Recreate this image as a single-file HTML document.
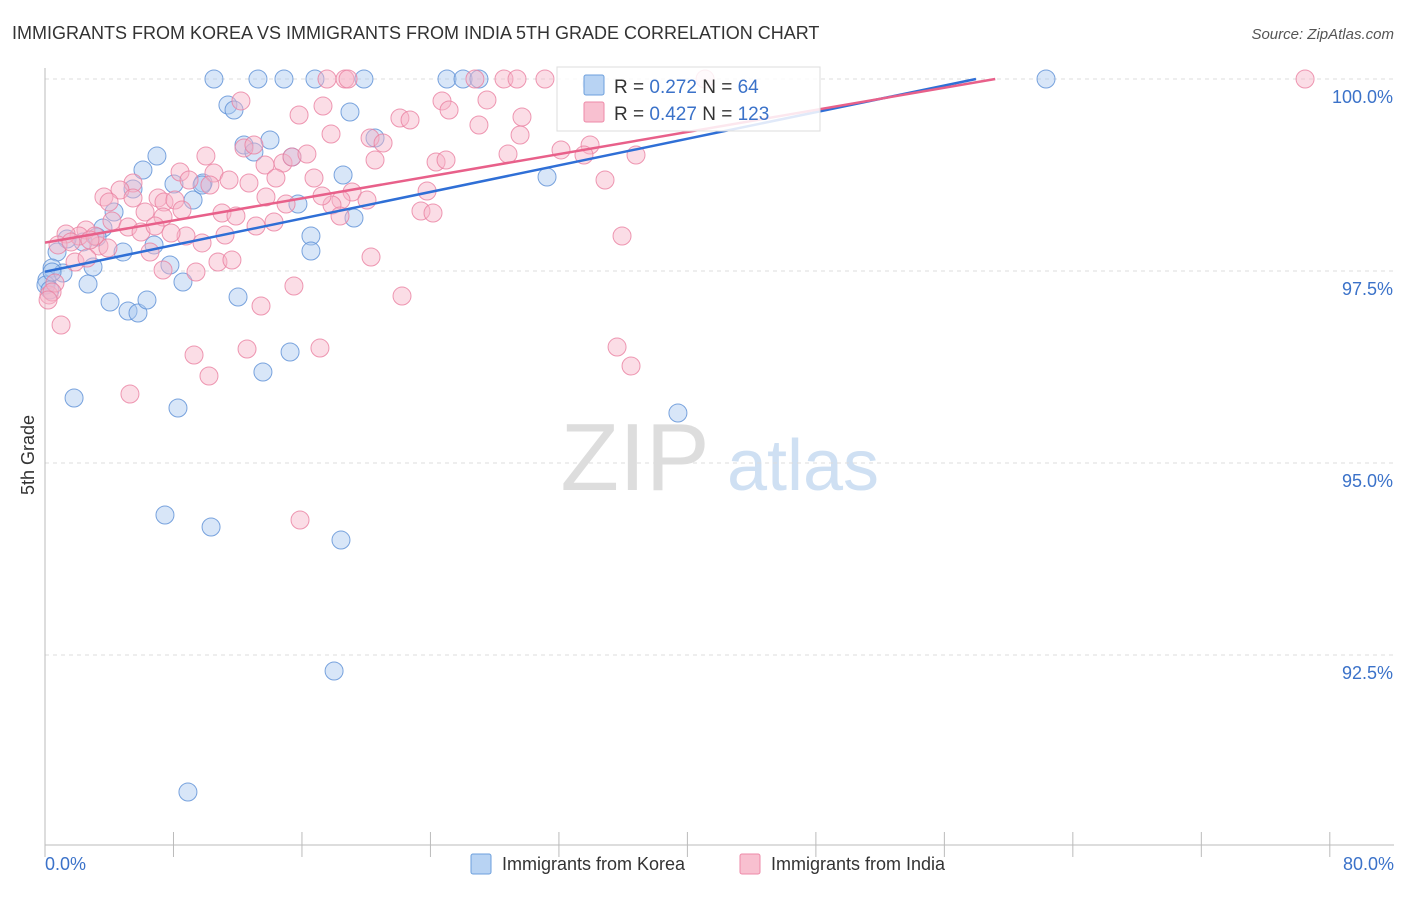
<!DOCTYPE html>
<html><head><meta charset="utf-8"><style>
body{margin:0;background:#fff;font-family:"Liberation Sans",sans-serif;}
svg text{font-family:"Liberation Sans",sans-serif;}
</style></head><body>
<svg id="c" width="1406" height="892" xmlns="http://www.w3.org/2000/svg">
<text x="12" y="39" font-size="18" fill="#333">IMMIGRANTS FROM KOREA VS IMMIGRANTS FROM INDIA 5TH GRADE CORRELATION CHART</text>
<text x="1394" y="39" font-size="15" fill="#555" text-anchor="end" font-style="italic">Source: ZipAtlas.com</text>
<text x="34" y="455" font-size="18" fill="#333" transform="rotate(-90 34 455)" text-anchor="middle">5th Grade</text>
<g><text x="635" y="490" font-size="96" font-family="Liberation Serif" fill="#ddd" text-anchor="middle">ZIP</text><text x="803" y="490" font-size="72" fill="#cfe0f3" text-anchor="middle">atlas</text></g>
<g id="grid"></g><g id="axes"></g><g id="pts"></g><g id="lines"></g>
<g>
<rect x="557" y="67" width="263" height="64" fill="#fff" fill-opacity="0.85" stroke="#ddd"/>
<rect x="584" y="75" width="20" height="20" fill="#b8d3f3" stroke="#6d9fdc" rx="2"/>
<rect x="584" y="102" width="20" height="20" fill="#f8c0d0" stroke="#ee8aa8" rx="2"/>
<text x="614" y="93" font-size="19" fill="#333">R = <tspan fill="#3b72c9">0.272</tspan>   N = <tspan fill="#3b72c9"> 64</tspan></text>
<text x="614" y="120" font-size="19" fill="#333">R = <tspan fill="#3b72c9">0.427</tspan>   N = <tspan fill="#3b72c9">123</tspan></text>
</g>
<g><rect x="471" y="854" width="20" height="20" fill="#b8d3f3" stroke="#6d9fdc" rx="2"/><text x="502" y="870" font-size="18" fill="#333">Immigrants from Korea</text></g>
<g><rect x="740" y="854" width="20" height="20" fill="#f8c0d0" stroke="#ee8aa8" rx="2"/><text x="771" y="870" font-size="18" fill="#333">Immigrants from India</text></g>
</svg>
<script>
const yTicks=[100,97.5,95,92.5];
const yTickLabels=["100.0%","97.5%","95.0%","92.5%"];
const koreaPx=[[214,79],[258,79],[284,79],[315,79],[364,79],[447,79],[463,79],[479,79],[1046,79],[592,84],[228,105],[234,110],[350,112],[270,140],[244,145],[254,152],[375,138],[292,157],[157,156],[143,170],[343,175],[174,184],[203,183],[133,189],[193,200],[298,204],[114,212],[103,228],[354,218],[311,236],[311,251],[154,245],[83,242],[97,237],[67,239],[123,252],[57,252],[93,267],[170,265],[52,268],[183,282],[88,284],[47,280],[63,273],[110,302],[128,311],[138,313],[147,300],[238,297],[290,352],[263,372],[74,398],[178,408],[165,515],[211,527],[341,540],[334,671],[188,792],[547,177],[678,413],[46,285],[50,290],[202,185],[52,272]];
const indiaPx=[[327,79],[345,79],[348,79],[475,79],[504,79],[517,79],[545,79],[1305,79],[705,79],[241,101],[323,106],[299,115],[400,118],[410,120],[442,101],[449,110],[487,100],[522,117],[479,125],[331,134],[370,138],[244,148],[254,145],[206,156],[283,163],[292,157],[307,154],[383,143],[375,160],[436,162],[446,160],[508,154],[561,150],[590,145],[584,155],[636,155],[180,172],[189,180],[214,173],[229,180],[210,185],[265,165],[276,178],[314,178],[352,192],[367,200],[341,200],[332,205],[322,196],[286,204],[266,197],[249,183],[427,191],[133,183],[120,190],[104,197],[109,202],[158,198],[164,202],[175,200],[182,210],[163,217],[145,212],[222,213],[236,216],[186,236],[202,243],[225,235],[256,226],[274,222],[340,216],[421,211],[433,213],[605,180],[112,221],[128,227],[141,232],[155,226],[171,233],[86,230],[79,236],[66,234],[58,245],[75,262],[99,246],[108,248],[95,236],[150,252],[218,262],[232,260],[196,272],[294,286],[371,257],[402,296],[261,306],[622,236],[49,295],[55,283],[61,325],[52,292],[194,355],[247,349],[320,348],[209,376],[130,394],[617,347],[631,366],[300,520],[87,258],[163,270],[71,242],[133,198],[90,240],[48,300],[520,135]];
// convert read pixel estimates to data values (percent)
const koreaX=koreaPx.map(p=>+((p[0]-45)/16.06).toFixed(2));
const koreaY=koreaPx.map(p=>+(100-(p[1]-79)/76.8).toFixed(3));
const indiaX=indiaPx.map(p=>+((p[0]-45)/16.06).toFixed(2));
const indiaY=indiaPx.map(p=>+(100-(p[1]-79)/76.8).toFixed(3));
const koreaTrend=[97.49,0.0433];
const indiaTrend=[97.87,0.036];
const X=v=>45+v*16.06, Y=v=>79+(100-v)*76.8;
const NS="http://www.w3.org/2000/svg";
function mk(t,a,parent){const e=document.createElementNS(NS,t);for(const k in a)e.setAttribute(k,a[k]);document.getElementById(parent).appendChild(e);return e;}
yTicks.forEach((t,i)=>{
 const l=mk('line',{x1:45,x2:1394,y1:Y(t),y2:Y(t),stroke:'#ddd','stroke-dasharray':'4,4'},'grid');
 
 
 const tx=mk('text',{x:1393,y:Y(t)+24,'font-size':18,fill:'#3b72c9','text-anchor':'end'},'grid');tx.textContent=yTickLabels[i];
 
 
});
let ax=mk('line',{x1:45,x2:45,y1:68,y2:845,stroke:'#bbb'},'axes');


ax=mk('line',{x1:45,x2:1394,y1:845,y2:845,stroke:'#bbb'},'axes');


for(let i=0;i<=10;i++){const t=mk('line',{x1:X(i*8),x2:X(i*8),y1:832,y2:857,stroke:'#bbb'},'axes');
 
 }
let tl=mk('text',{x:45,y:870,'font-size':18,fill:'#3b72c9'},'axes');tl.textContent='0.0%';


tl=mk('text',{x:1394,y:870,'font-size':18,fill:'#3b72c9','text-anchor':'end'},'axes');tl.textContent='80.0%';


function pts(xs,ys,fill,stroke,name){xs.forEach((x,i)=>{const c=mk('circle',{cx:X(x),cy:Y(ys[i]),r:9,fill:fill,'fill-opacity':0.45,stroke:stroke,'stroke-opacity':0.8,'stroke-width':1},'pts');
 
 });}
pts(koreaX,koreaY,'#a9c8f0','#5b8fd6','korea-point');
pts(indiaX,indiaY,'#f6b3c7','#ea7fa0','india-point');
function trend(tr,col,name){const xe=(100-tr[0])/tr[1];const l=mk('line',{x1:X(0),y1:Y(tr[0]),x2:X(xe),y2:Y(100),stroke:col,'stroke-width':2.5},'lines');
 
 }
trend(koreaTrend,'#2f6fd6','korea-trendline');
trend(indiaTrend,'#e8608a','india-trendline');
</script>
</body></html>
